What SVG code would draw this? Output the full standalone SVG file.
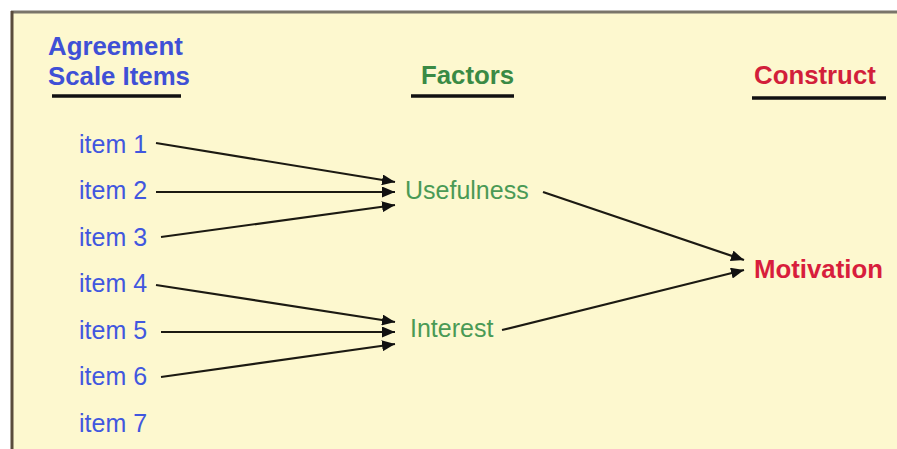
<svg xmlns="http://www.w3.org/2000/svg" width="897" height="449" viewBox="0 0 897 449">
<defs>
<style>
.hd{font-family:"Liberation Sans",Arial,sans-serif;font-weight:bold;font-size:25.8px}
.it{font-family:"Liberation Sans",Arial,sans-serif;font-size:25px;fill:#4157df}
.fac{font-family:"Liberation Sans",Arial,sans-serif;font-size:25px;fill:#4a9a55}
.ul{stroke:#111;stroke-width:3.5}
.c{stroke:#1c1a12;stroke-width:2.2;fill:none;marker-end:url(#ah)}
</style>
<marker id="ah" viewBox="0 0 13 11" refX="13" refY="5.5" markerWidth="13" markerHeight="11" markerUnits="userSpaceOnUse" orient="auto">
<path d="M0,0 L13,5.5 L0,11 Z" fill="#111"/>
</marker>
</defs>
<rect width="897" height="449" fill="#fff"/>
<rect x="12" y="12" width="885" height="437" fill="#fdf8cf"/>
<line x1="11" y1="12" x2="897" y2="12" stroke="#7a756a" stroke-width="3"/>
<line x1="12" y1="11" x2="12" y2="449" stroke="#5a4c3c" stroke-width="3"/>
<g id="header-items">
<text class="hd" x="48" y="55" fill="#3f50d6">Agreement</text>
<text class="hd" x="48" y="85" fill="#3f50d6">Scale Items</text>
<line class="ul" x1="52" y1="96" x2="181" y2="96"/>
</g>
<g id="header-factors">
<text class="hd" x="421" y="84" fill="#3a8a45">Factors</text>
<line class="ul" x1="411" y1="96" x2="514" y2="96"/>
</g>
<g id="header-construct">
<text class="hd" x="754" y="84" fill="#d21f3b">Construct</text>
<line class="ul" x1="752" y1="98" x2="886" y2="98"/>
</g>
<g id="item1"><text class="it" x="79" y="153">item 1</text></g>
<g id="item2"><text class="it" x="79" y="199">item 2</text></g>
<g id="item3"><text class="it" x="79" y="246">item 3</text></g>
<g id="item4"><text class="it" x="79" y="292">item 4</text></g>
<g id="item5"><text class="it" x="79" y="339">item 5</text></g>
<g id="item6"><text class="it" x="79" y="385">item 6</text></g>
<g id="item7"><text class="it" x="79" y="432">item 7</text></g>
<g id="usefulness"><text class="fac" x="405" y="199">Usefulness</text></g>
<g id="interest"><text class="fac" x="410" y="337">Interest</text></g>
<g id="motivation"><text class="hd" x="754" y="278" fill="#d81e3c">Motivation</text></g>
<g id="connectors">
<line class="c" x1="156" y1="143" x2="395" y2="182"/>
<line class="c" x1="156" y1="192" x2="395" y2="192"/>
<line class="c" x1="161" y1="237" x2="395" y2="205"/>
<line class="c" x1="156" y1="285" x2="395" y2="322"/>
<line class="c" x1="161" y1="332" x2="395" y2="332"/>
<line class="c" x1="161" y1="377" x2="395" y2="344"/>
<line class="c" x1="543" y1="192" x2="744" y2="260"/>
<line class="c" x1="502" y1="330" x2="744" y2="270"/>
</g>
</svg>
